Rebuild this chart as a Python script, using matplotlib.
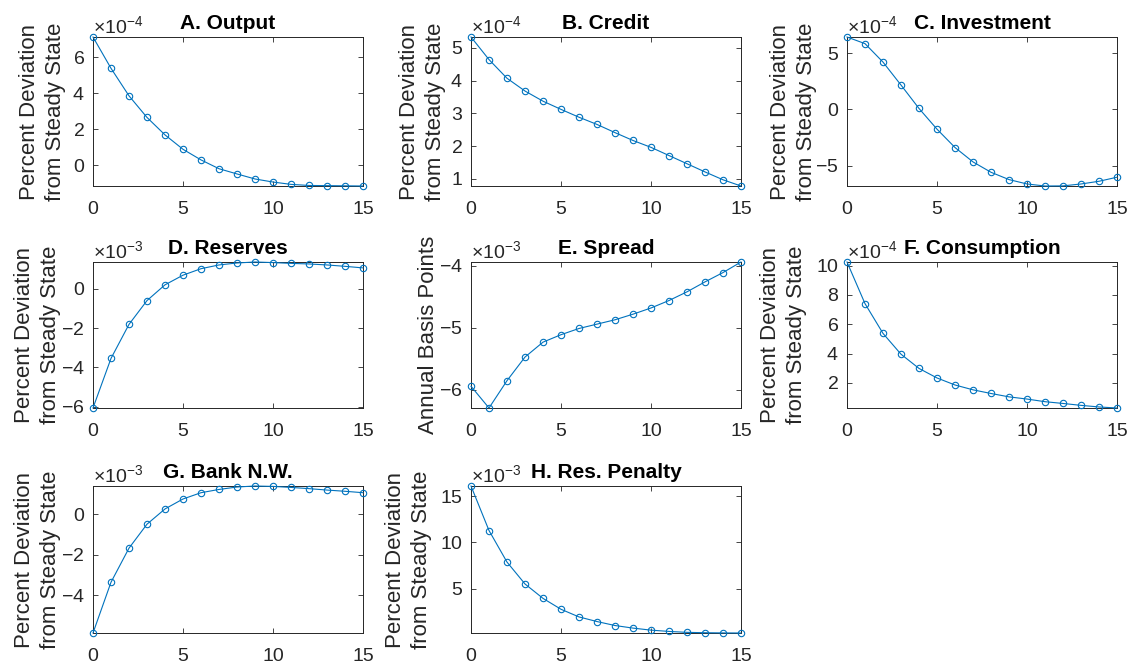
import matplotlib
matplotlib.use('Agg')
import matplotlib.pyplot as plt
from matplotlib.ticker import ScalarFormatter, FixedLocator

plt.rcParams['font.family'] = ['Liberation Sans', 'DejaVu Sans']
plt.rcParams['mathtext.fontset'] = 'custom'
plt.rcParams['mathtext.rm'] = 'Liberation Sans'
plt.rcParams['mathtext.it'] = 'Liberation Sans:italic'
plt.rcParams['mathtext.bf'] = 'Liberation Sans:bold'
plt.rcParams['axes.unicode_minus'] = False

# ---------------- data ----------------
periods = [0, 1, 2, 3, 4, 5, 6, 7, 8, 9, 10, 11, 12, 13, 14, 15]

output = [7.13e-4, 5.39e-4, 3.86e-4, 2.66e-4, 1.69e-4, 0.89e-4, 0.30e-4, -0.19e-4,
          -0.48e-4, -0.76e-4, -0.93e-4, -1.06e-4, -1.12e-4, -1.13e-4, -1.14e-4, -1.15e-4]
credit = [5.33e-4, 4.64e-4, 4.07e-4, 3.68e-4, 3.37e-4, 3.12e-4, 2.88e-4, 2.66e-4,
          2.41e-4, 2.17e-4, 1.96e-4, 1.71e-4, 1.46e-4, 1.21e-4, 0.97e-4, 0.78e-4]
investment = [6.44e-4, 5.85e-4, 4.21e-4, 2.17e-4, 0.09e-4, -1.75e-4, -3.38e-4, -4.66e-4,
              -5.58e-4, -6.23e-4, -6.62e-4, -6.80e-4, -6.79e-4, -6.62e-4, -6.38e-4, -6.02e-4]
reserves = [-6.06e-3, -3.54e-3, -1.81e-3, -0.60e-3, 0.20e-3, 0.69e-3, 1.02e-3, 1.21e-3,
            1.31e-3, 1.36e-3, 1.33e-3, 1.29e-3, 1.26e-3, 1.21e-3, 1.14e-3, 1.06e-3]
spread = [-5.94e-3, -6.29e-3, -5.85e-3, -5.47e-3, -5.23e-3, -5.11e-3, -5.01e-3, -4.94e-3,
          -4.87e-3, -4.78e-3, -4.68e-3, -4.56e-3, -4.42e-3, -4.26e-3, -4.11e-3, -3.94e-3]
consumption = [10.25e-4, 7.41e-4, 5.38e-4, 3.96e-4, 2.99e-4, 2.34e-4, 1.86e-4, 1.53e-4,
               1.28e-4, 1.05e-4, 0.90e-4, 0.72e-4, 0.60e-4, 0.47e-4, 0.36e-4, 0.29e-4]
bank_nw = [-5.85e-3, -3.35e-3, -1.67e-3, -0.49e-3, 0.26e-3, 0.75e-3, 1.06e-3, 1.22e-3,
           1.34e-3, 1.39e-3, 1.37e-3, 1.32e-3, 1.26e-3, 1.19e-3, 1.13e-3, 1.06e-3]
res_penalty = [16.11e-3, 11.29e-3, 7.87e-3, 5.50e-3, 3.94e-3, 2.76e-3, 1.93e-3, 1.43e-3,
               1.00e-3, 0.72e-3, 0.50e-3, 0.36e-3, 0.26e-3, 0.22e-3, 0.20e-3, 0.19e-3]

titles = ['A. Output', 'B. Credit', 'C. Investment', 'D. Reserves', 'E. Spread',
          'F. Consumption', 'G. Bank N.W.', 'H. Res. Penalty']
pct_label = 'Percent Deviation\nfrom Steady State'
ylabels = [pct_label, pct_label, pct_label, pct_label, 'Annual Basis Points',
           pct_label, pct_label, pct_label]
exponents = [-4, -4, -4, -3, -3, -4, -3, -3]
yticks = [
    [0, 2e-4, 4e-4, 6e-4],
    [1e-4, 2e-4, 3e-4, 4e-4, 5e-4],
    [-5e-4, 0, 5e-4],
    [-6e-3, -4e-3, -2e-3, 0],
    [-6e-3, -5e-3, -4e-3],
    [2e-4, 4e-4, 6e-4, 8e-4, 10e-4],
    [-4e-3, -2e-3, 0],
    [5e-3, 10e-3, 15e-3],
]
xticks = [0, 5, 10, 15]
series = [output, credit, investment, reserves, spread, consumption, bank_nw, res_penalty]

# ---------------- layout ----------------
W, H = 1138, 663
fig = plt.figure(figsize=(W / 100, H / 100), dpi=100)
col_left = [93, 471, 847]
row_top = [37, 262, 486]
row_bot = [186, 408, 633]
ax_w = 270
label_offset_px = [-27, -25, -30, -32, -32, -40, -32, -39]

line_color = '#0072BD'
axis_color = '#262626'

for i, vals in enumerate(series):
    r, c = divmod(i, 3)
    rect = [col_left[c] / W, 1 - row_bot[r] / H, ax_w / W, (row_bot[r] - row_top[r]) / H]
    ax = fig.add_axes(rect)
    ax.plot(periods, vals, '-o', color=line_color, lw=0.8, ms=4.6,
            mfc='none', mec=line_color, mew=0.8, clip_on=False, zorder=3)
    ax.set_xlim(periods[0], periods[-1])
    ax.set_ylim(min(vals), max(vals))
    ax.xaxis.set_major_locator(FixedLocator(xticks))
    ax.yaxis.set_major_locator(FixedLocator(yticks[i]))
    fmt = ScalarFormatter(useMathText=True)
    fmt.set_powerlimits((exponents[i], exponents[i]))
    ax.yaxis.set_major_formatter(fmt)
    ax.tick_params(direction='in', length=3.5, width=0.6, top=True, right=True,
                   labelsize=14, colors=axis_color)
    ax.tick_params(axis='x', pad=10.5)
    ax.tick_params(axis='y', pad=6)
    ax.yaxis.get_offset_text().set_fontsize(14)
    ax.yaxis.get_offset_text().set_color(axis_color)
    for s in ax.spines.values():
        s.set_color(axis_color)
        s.set_linewidth(0.7)
    ax.set_title(titles[i], fontsize=15, fontweight='bold', color='black', pad=6)
    ax.set_ylabel(ylabels[i], fontsize=16, color=axis_color, linespacing=1.3)
    ax.yaxis.set_label_coords(label_offset_px[i] / ax_w, 0.5)

fig.savefig('out.png', dpi=100)
